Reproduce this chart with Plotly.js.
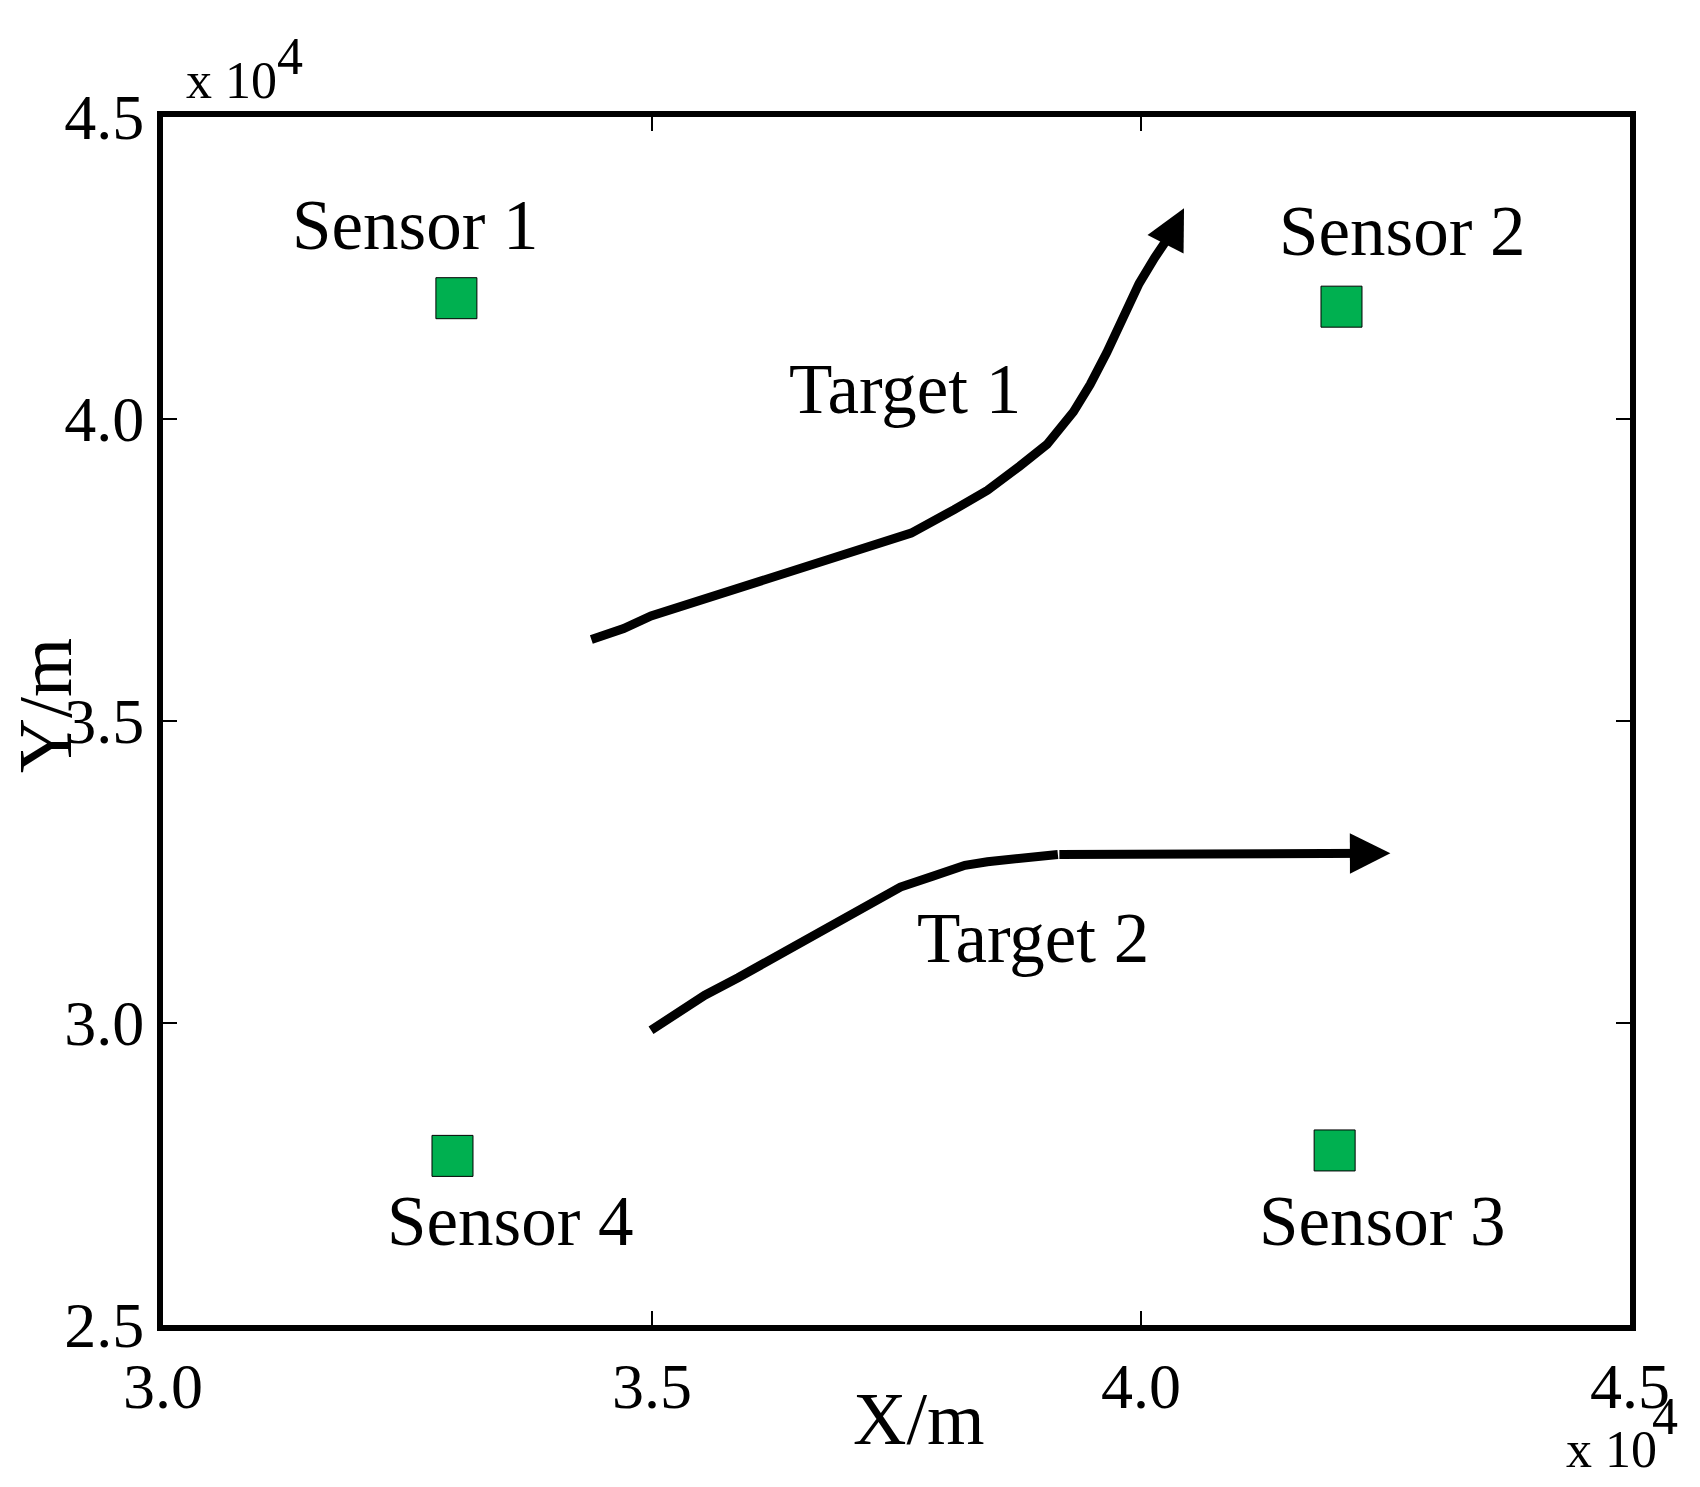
<!DOCTYPE html>
<html>
<head>
<meta charset="utf-8">
<script src="https://cdn.plot.ly/plotly-3.0.1.min.js"></script>
<style>html,body{margin:0;padding:0;background:#fff;}#chart{width:1700px;height:1487px;}</style>
</head>
<body>
<div id="chart"></div>
<script>
// Sensor positions (m)
const sensorNames = ['Sensor 1', 'Sensor 2', 'Sensor 3', 'Sensor 4'];
const sensorX = [33000, 42050, 41980, 32960];
const sensorY = [42000, 41860, 27890, 27800];
// Sensor label anchor positions (m)
const sensorLabelX = [32580, 42670, 42470, 33550];
const sensorLabelY = [43220, 43120, 26720, 26720];

// Target 1 trajectory (m)
const target1X = [34380, 34710, 34990, 35430, 35880, 36320, 36760, 37210, 37650, 38090, 38430, 38760, 39040, 39310, 39480, 39650, 39810, 39980, 40140, 40310, 40440];
const target1Y = [36350, 36530, 36740, 36970, 37190, 37420, 37640, 37870, 38110, 38500, 38820, 39220, 39580, 40120, 40570, 41100, 41640, 42240, 42670, 43080, 43490];
// Target 2 trajectory (m)
const target2X = [34990, 35210, 35540, 35880, 36210, 36540, 36870, 37210, 37540, 37870, 38200, 38430, 38760, 39150, 42550];
const target2Y = [29880, 30100, 30460, 30750, 31050, 31360, 31640, 31950, 32250, 32430, 32610, 32670, 32720, 32790, 32810];

const targetNames = ['Target 1', 'Target 2'];
const targetLabelX = [37590, 38900];
const targetLabelY = [40500, 31400];

const xTickVals = [30000, 35000, 40000, 45000];
const xTickText = ['3.0', '3.5', '4.0', '4.5'];
const yTickVals = [25000, 30000, 35000, 40000, 45000];
const yTickText = ['2.5', '3.0', '3.5', '4.0', '4.5'];

const FONT = 'Liberation Serif, Times New Roman, serif';
const n1 = target1X.length, n2 = target2X.length;

const traces = [
  {x: target1X.slice(0, n1 - 1), y: target1Y.slice(0, n1 - 1), mode: 'lines', line: {color: '#000', width: 9}, hoverinfo: 'skip', showlegend: false},
  {x: target2X.slice(0, n2 - 1), y: target2Y.slice(0, n2 - 1), mode: 'lines', line: {color: '#000', width: 9}, hoverinfo: 'skip', showlegend: false},
  {x: sensorX, y: sensorY, mode: 'markers', marker: {symbol: 'square', size: 41, color: '#00B050', line: {color: '#000', width: 1}}, hoverinfo: 'skip', showlegend: false}
];

const annotations = [];
// arrows at trajectory ends
[[target1X, target1Y], [target2X, target2Y]].forEach(([tx, ty]) => {
  const n = tx.length;
  annotations.push({x: tx[n - 1], y: ty[n - 1], ax: tx[n - 2], ay: ty[n - 2], xref: 'x', yref: 'y', axref: 'x', ayref: 'y',
    showarrow: true, arrowhead: 2, arrowsize: 0.9, arrowwidth: 9, arrowcolor: '#000', text: ' ', font: {size: 1}});
});
sensorNames.forEach((s, i) => annotations.push({x: sensorLabelX[i], y: sensorLabelY[i], xref: 'x', yref: 'y', text: s, showarrow: false,
  font: {family: FONT, size: 71, color: '#000'}}));
targetNames.forEach((s, i) => annotations.push({x: targetLabelX[i], y: targetLabelY[i], xref: 'x', yref: 'y', text: s, showarrow: false,
  font: {family: FONT, size: 71, color: '#000'}}));
// axis titles
annotations.push({xref: 'paper', yref: 'paper', x: 0.515, y: -0.078, xanchor: 'center', yanchor: 'middle', text: 'X/m', showarrow: false,
  font: {family: FONT, size: 74, color: '#000'}});
annotations.push({xref: 'paper', yref: 'paper', x: -0.08, y: 0.513, xanchor: 'center', yanchor: 'middle', text: 'Y/m', textangle: -90, showarrow: false,
  font: {family: FONT, size: 76, color: '#000'}});
// exponent labels: top-left
annotations.push({xref: 'paper', yref: 'paper', x: 0.014, y: 1.0, xanchor: 'left', yanchor: 'bottom', yshift: 6, text: 'x 10', showarrow: false,
  font: {family: FONT, size: 52, color: '#000'}});
annotations.push({xref: 'paper', yref: 'paper', x: 0.072, y: 1.0, xanchor: 'left', yanchor: 'bottom', xshift: 6, yshift: 30, text: '4', showarrow: false,
  font: {family: FONT, size: 52, color: '#000'}});
// exponent labels: bottom-right
annotations.push({xref: 'paper', yref: 'paper', x: 1.0, y: -0.09, xanchor: 'left', yanchor: 'top', xshift: -66, yshift: 15, text: 'x 10', showarrow: false,
  font: {family: FONT, size: 52, color: '#000'}});
annotations.push({xref: 'paper', yref: 'paper', x: 1.0, y: -0.09, xanchor: 'left', yanchor: 'top', xshift: 20, yshift: 48, text: '4', showarrow: false,
  font: {family: FONT, size: 52, color: '#000'}});

const axisCommon = {showgrid: false, zeroline: false, showline: true, linecolor: '#000', linewidth: 6, mirror: 'ticks',
  ticks: 'inside', ticklen: 14, tickwidth: 2, tickcolor: '#000', tickfont: {family: FONT, size: 64, color: '#000'}, fixedrange: true};

const layout = {
  width: 1700, height: 1487,
  margin: {l: 163, r: 70, t: 117, b: 162},
  paper_bgcolor: '#fff', plot_bgcolor: '#fff',
  xaxis: Object.assign({}, axisCommon, {range: [30000, 45000], tickvals: xTickVals, ticktext: xTickText}),
  yaxis: Object.assign({}, axisCommon, {range: [25000, 45000], tickvals: yTickVals, ticktext: yTickText}),
  annotations: annotations,
  showlegend: false
};

Plotly.newPlot('chart', traces, layout, {staticPlot: true, displayModeBar: false});
</script>
</body>
</html>
